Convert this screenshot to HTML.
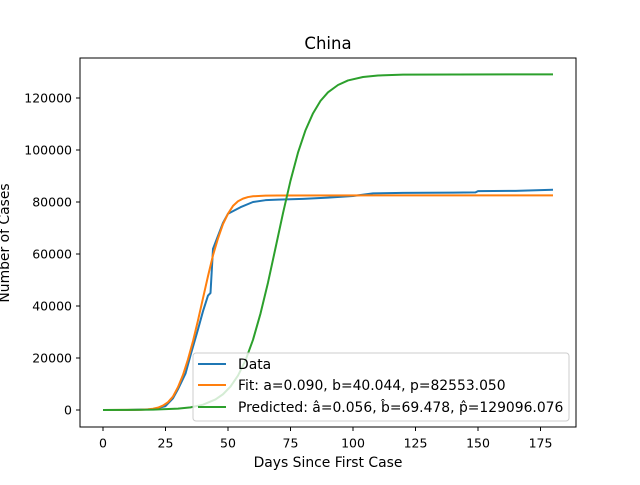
<!DOCTYPE html>
<html><head><meta charset="utf-8"><style>
body{margin:0;background:#fff}
svg{font-family:"DejaVu Sans","Liberation Sans",sans-serif}
</style></head><body>
<svg id="chart" width="640" height="480" xmlns="http://www.w3.org/2000/svg">
<rect width="640" height="480" fill="#fff"/>
<g id="plot"></g>
<rect x="80" y="58" width="496" height="369" fill="none" stroke="#000" stroke-width="1"/>
<text x="328" y="49" text-anchor="middle" font-size="16.5">China</text>
<text x="328" y="467" text-anchor="middle" font-size="13.9">Days Since First Case</text>
<text transform="translate(9,243) rotate(-90)" text-anchor="middle" font-size="13.9">Number of Cases</text>
<g id="ticks"></g>
<g>
<rect x="193" y="353" width="376" height="68" rx="3" fill="#fff" fill-opacity="0.8" stroke="#ccc"/>
<line x1="198" y1="364" x2="226" y2="364" stroke="#1f77b4" stroke-width="2"/>
<text x="238" y="369" font-size="13.9">Data</text>
<line x1="198" y1="385" x2="226" y2="385" stroke="#ff7f0e" stroke-width="2"/>
<text x="238" y="390" font-size="13.9">Fit: a=0.090, b=40.044, p=82553.050</text>
<line x1="198" y1="407" x2="226" y2="407" stroke="#2ca02c" stroke-width="2"/>
<text x="238" y="412" font-size="13.9">Predicted: â=0.056, b̂=69.478, p̂=129096.076</text>
</g>
</svg>
<script>
const dataDays=[0,10,20,25,28,30,33,35,38,40,42,43,44,46,48,50,55,60,65,70,80,90,100,108,120,140,149,150,165,180];
const dataCases=[0,0,300,1500,4500,8000,14000,21000,31000,38000,44000,45000,62000,67000,72000,75500,78000,80000,80700,80900,81200,81700,82300,83300,83500,83600,83700,84200,84300,84700];
const fitDays=[0,15,18,20,22,24,26,28,30,32,34,36,38,40,42,44,46,48,50,52,54,56,58,60,65,70,180];
const fitCases=[0,80,250,500,900,1700,3000,5200,8800,13500,19500,26500,34500,43000,51500,59500,66000,71500,75500,78500,80300,81300,81900,82200,82450,82520,82550];
const predDays=[0,20,30,35,40,45,48,51,54,57,60,63,66,69,72,75,78,81,84,87,90,94,98,104,110,120,180];
const predCases=[0,130,510,1025,2050,4050,6060,9030,13230,19120,27000,37100,49000,62300,75700,88200,99000,107600,114100,118900,122200,125000,126750,128070,128650,129000,129096];
const xTicks=[0,25,50,75,100,125,150,175];
const yTicks=[0,20000,40000,60000,80000,100000,120000];
const X=v=>103+v*2.5;
const Y=v=>410-v*0.0026;
const NS="http://www.w3.org/2000/svg";
const plot=document.getElementById('plot'),tk=document.getElementById('ticks');
function line(days,vals,color,name){
  const p=document.createElementNS(NS,'polyline');
  p.setAttribute('points',days.map((d,i)=>X(d)+','+Y(vals[i])).join(' '));
  p.setAttribute('fill','none');p.setAttribute('stroke',color);p.setAttribute('stroke-width','2');
  p.setAttribute('stroke-linejoin','round');
  
  
  plot.appendChild(p);
}
line(dataDays,dataCases,'#1f77b4','data-line');
line(fitDays,fitCases,'#ff7f0e','fit-line');
line(predDays,predCases,'#2ca02c','predicted-line');
xTicks.forEach(t=>{
  const l=document.createElementNS(NS,'line');
  l.setAttribute('x1',X(t));l.setAttribute('x2',X(t));l.setAttribute('y1',427);l.setAttribute('y2',431);l.setAttribute('stroke','#000');
  
  
  tk.appendChild(l);
  const s=document.createElementNS(NS,'text');
  s.setAttribute('x',X(t));s.setAttribute('y',447.5);s.setAttribute('text-anchor','middle');s.setAttribute('font-size','12.5');
  s.textContent=t;
  
  
  tk.appendChild(s);
});
yTicks.forEach(t=>{
  const l=document.createElementNS(NS,'line');
  l.setAttribute('x1',76);l.setAttribute('x2',80);l.setAttribute('y1',Y(t));l.setAttribute('y2',Y(t));l.setAttribute('stroke','#000');
  
  
  tk.appendChild(l);
  const s=document.createElementNS(NS,'text');
  s.setAttribute('x',72);s.setAttribute('y',Y(t)+4.5);s.setAttribute('text-anchor','end');s.setAttribute('font-size','12.5');
  s.textContent=t;
  
  
  tk.appendChild(s);
});
</script>
</body></html>
